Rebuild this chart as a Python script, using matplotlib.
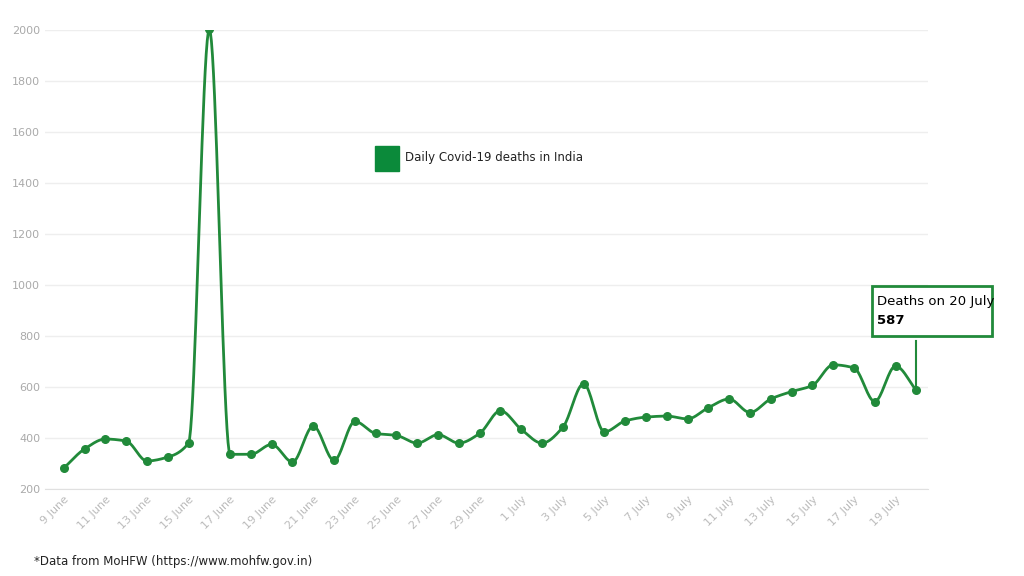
import matplotlib
matplotlib.use("Agg")
import matplotlib.pyplot as plt
import numpy as np

dates = [f"{d} June" for d in range(9, 31)] + [f"{d} July" for d in range(1, 21)]
deaths = [282, 357, 396, 388, 310, 325, 380, 2003, 336, 336, 375, 306, 447, 312, 465, 418,
          410, 380, 413, 380, 418, 507, 434, 380, 442, 613, 424, 467, 482, 486, 475, 519,
          553, 500, 553, 582, 606, 687, 675, 543, 682, 587]

x = np.arange(len(deaths), dtype=float)
y = np.array(deaths, dtype=float)

# monotone cubic (Fritsch-Carlson) smoothing
d = np.diff(y)
m = np.zeros_like(y)
m[0], m[-1] = d[0], d[-1]
for i in range(1, len(y) - 1):
    if d[i-1] * d[i] > 0:
        m[i] = 2 / (1/d[i-1] + 1/d[i])
xs, ys = [], []
for i in range(len(y) - 1):
    t = np.linspace(0, 1, 20, endpoint=False)
    h00 = 2*t**3 - 3*t**2 + 1; h10 = t**3 - 2*t**2 + t
    h01 = -2*t**3 + 3*t**2; h11 = t**3 - t**2
    xs.extend(x[i] + t); ys.extend(h00*y[i] + h10*m[i] + h01*y[i+1] + h11*m[i+1])
xs.append(x[-1]); ys.append(y[-1])

green = "#218a3a"
fig = plt.figure(figsize=(10.24, 5.76), dpi=100)
ax = fig.add_axes([0.044, 0.151, 0.862, 0.797])
ax.plot(xs, ys, color=green, lw=2)
ax.scatter(x, y, color=green, s=30, zorder=3)
ax.set_ylim(200, 2000)
ax.set_xlim(-0.9, len(y) - 0.45)
ax.set_yticks(range(200, 2001, 200))
ax.set_xticks(x[::2])
ax.set_xticklabels(dates[::2], rotation=45, ha="right", rotation_mode="anchor")
ax.tick_params(colors="#aaaaaa", labelsize=8, length=0)
ax.grid(axis="y", color="#eeeeee", lw=1)
for s in ["top", "right", "left"]:
    ax.spines[s].set_visible(False)
ax.spines["bottom"].set_color("#e0e0e0")
for lab in ax.get_xticklabels():
    lab.set_color("#bbbbbb")

fig.patches.append(plt.Rectangle((375/1024, 1-171/576), 24/1024, 25/576, transform=fig.transFigure,
                                 color="#0b8a3a"))
fig.text(405/1024, 1-158/576, "Daily Covid-19 deaths in India", fontsize=8.5, va="center", color="#222222")

ax.plot([x[-1], x[-1]], [y[-1], 780], color=green, lw=1.5, clip_on=False)
fig.patches.append(plt.Rectangle((872/1024, 1-336/576), 120/1024, 50/576, transform=fig.transFigure,
                                 fill=False, edgecolor=green, lw=2))
fig.text(877/1024, 1-302/576, "Deaths on 20 July", fontsize=9.5, va="center", color="black")
fig.text(877/1024, 1-321/576, "587", fontsize=9.5, va="center", color="black", fontweight="bold")

fig.text(34/1024, 1-561/576, "*Data from MoHFW (https://www.mohfw.gov.in)", fontsize=8.5, va="center", color="#222222")
fig.savefig("out.png", dpi=100)
